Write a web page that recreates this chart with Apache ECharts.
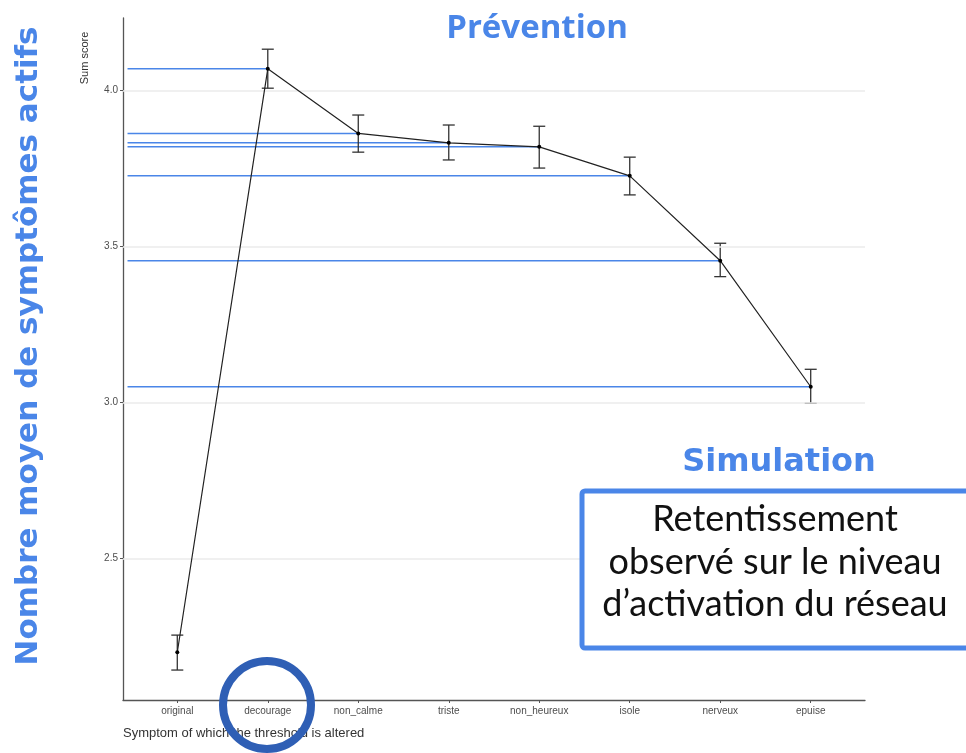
<!DOCTYPE html>
<html>
<head>
<meta charset="utf-8">
<script src="https://cdn.jsdelivr.net/npm/echarts@6/dist/echarts.min.js"></script>
<style>html,body{margin:0;padding:0;background:#fff}#c{width:966px;height:753px}</style>
</head>
<body>
<div id="c"></div>
<script>
const categories = ['original','decourage','non_calme','triste','non_heureux','isole','nerveux','epuise'];
const means = [2.200, 4.070, 3.863, 3.833, 3.820, 3.727, 3.455, 3.051];
const errLow = [2.143, 4.008, 3.803, 3.778, 3.752, 3.666, 3.404, 2.998];
const errHigh = [2.255, 4.133, 3.922, 3.890, 3.886, 3.787, 3.511, 3.107];
const yTicks = [2.5, 3.0, 3.5, 4.0];
const refLineIdx = [1,2,3,4,5,6,7];

const chart = echarts.init(document.getElementById('c'), null, {renderer:'canvas'});
const idx = categories.map((c,i)=>i);
const blue = '#4a86e8';

chart.setOption({
  animation: false,
  backgroundColor: '#fff',
  grid: {left: 123, right: 101, top: 18, bottom: 53, containLabel: false},
  xAxis: {
    type: 'value', min: -0.6, max: 7.6,
    axisLine: {show: true, onZero: false, lineStyle: {color: '#555', width: 1.3}},
    axisTick: {show: true, customValues: idx, length: 3, lineStyle: {color: '#555'}},
    axisLabel: {customValues: idx, formatter: v => categories[Math.round(v)] || '', color: '#4d4d4d', fontSize: 10, fontFamily: 'Liberation Sans', margin: 6},
    splitLine: {show: false}
  },
  yAxis: {
    type: 'value', min: 2.047, max: 4.233,
    axisLine: {show: true, onZero: false, lineStyle: {color: '#555', width: 1.3}},
    axisTick: {show: true, customValues: yTicks, length: 3, lineStyle: {color: '#555'}},
    axisLabel: {customValues: yTicks, formatter: v => v.toFixed(1), color: '#4d4d4d', fontSize: 10, fontFamily: 'Liberation Sans', margin: 5},
    splitLine: {show: false}
  },
  series: [
    {
      type: 'line', data: [], silent: true,
      markLine: {
        silent: true, symbol: 'none', label: {show: false},
        lineStyle: {color: '#ebebeb', width: 1.6, type: 'solid'},
        data: yTicks.map(v => ({yAxis: v}))
      }
    },
    {
      type: 'custom', silent: true, z: 3,
      data: refLineIdx.map(i => [i, means[i]]),
      renderItem: (params, api) => {
        const a = api.coord([-0.55, api.value(1)]);
        const b = api.coord([api.value(0), api.value(1)]);
        return {type: 'line', shape: {x1: a[0], y1: a[1], x2: b[0], y2: b[1]}, style: {stroke: blue, lineWidth: 1.5}};
      }
    },
    {
      type: 'custom', silent: true, z: 4,
      data: idx.map(i => [i, errLow[i], errHigh[i]]),
      renderItem: (params, api) => {
        const lo = api.coord([api.value(0), api.value(1)]);
        const hi = api.coord([api.value(0), api.value(2)]);
        const w = 6;
        const st = {stroke: '#333', lineWidth: 1.3};
        return {type: 'group', children: [
          {type: 'line', shape: {x1: lo[0], y1: lo[1], x2: hi[0], y2: hi[1]}, style: st},
          {type: 'line', shape: {x1: lo[0]-w, y1: lo[1], x2: lo[0]+w, y2: lo[1]}, style: st},
          {type: 'line', shape: {x1: hi[0]-w, y1: hi[1], x2: hi[0]+w, y2: hi[1]}, style: st}
        ]};
      }
    },
    {
      type: 'line', z: 5,
      data: idx.map(i => [i, means[i]]),
      symbol: 'circle', symbolSize: 4,
      itemStyle: {color: '#000'},
      lineStyle: {color: '#222', width: 1.2}
    }
  ],
  graphic: [
    {type: 'text', x: 85, y: 58, rotation: Math.PI/2, style: {text: 'Sum score', fill: '#333', font: '11px "Liberation Sans"', textAlign: 'center', textVerticalAlign: 'middle'}},
    {type: 'text', x: 123, y: 733, style: {text: 'Symptom of which the threshold is altered', fill: '#333', font: '13px "Liberation Sans"', textAlign: 'left', textVerticalAlign: 'middle'}},
    {type: 'text', x: 537, y: 29, style: {text: 'Prévention', fill: blue, font: 'bold 33px "Open Sans"', textAlign: 'center', textVerticalAlign: 'middle'}},
    {type: 'text', x: 779, y: 463, style: {text: 'Simulation', fill: blue, font: 'bold 32px "DejaVu Sans"', textAlign: 'center', textVerticalAlign: 'middle'}},
    {type: 'text', x: 29, y: 346, rotation: Math.PI/2, style: {text: 'Nombre moyen de symptômes actifs', fill: blue, font: 'bold 31px "DejaVu Sans"', textAlign: 'center', textVerticalAlign: 'middle'}},
    {type: 'rect', z: 10, shape: {x: 582, y: 491, width: 400, height: 157, r: 3}, style: {fill: '#fff', stroke: blue, lineWidth: 5}},
    {type: 'text', z: 11, x: 775, y: 519, style: {text: 'Retentissement', fill: '#111', font: '36px Lato', textAlign: 'center', textVerticalAlign: 'middle'}},
    {type: 'text', z: 11, x: 775, y: 562, style: {text: 'observé sur le niveau', fill: '#111', font: '36px Lato', textAlign: 'center', textVerticalAlign: 'middle'}},
    {type: 'text', z: 11, x: 775, y: 604, style: {text: 'd’activation du réseau', fill: '#111', font: '36px Lato', textAlign: 'center', textVerticalAlign: 'middle'}},
    {type: 'circle', z: 12, shape: {cx: 267, cy: 705, r: 44}, style: {fill: 'none', stroke: '#2f5fb5', lineWidth: 8}}
  ]
});
</script>
</body>
</html>
